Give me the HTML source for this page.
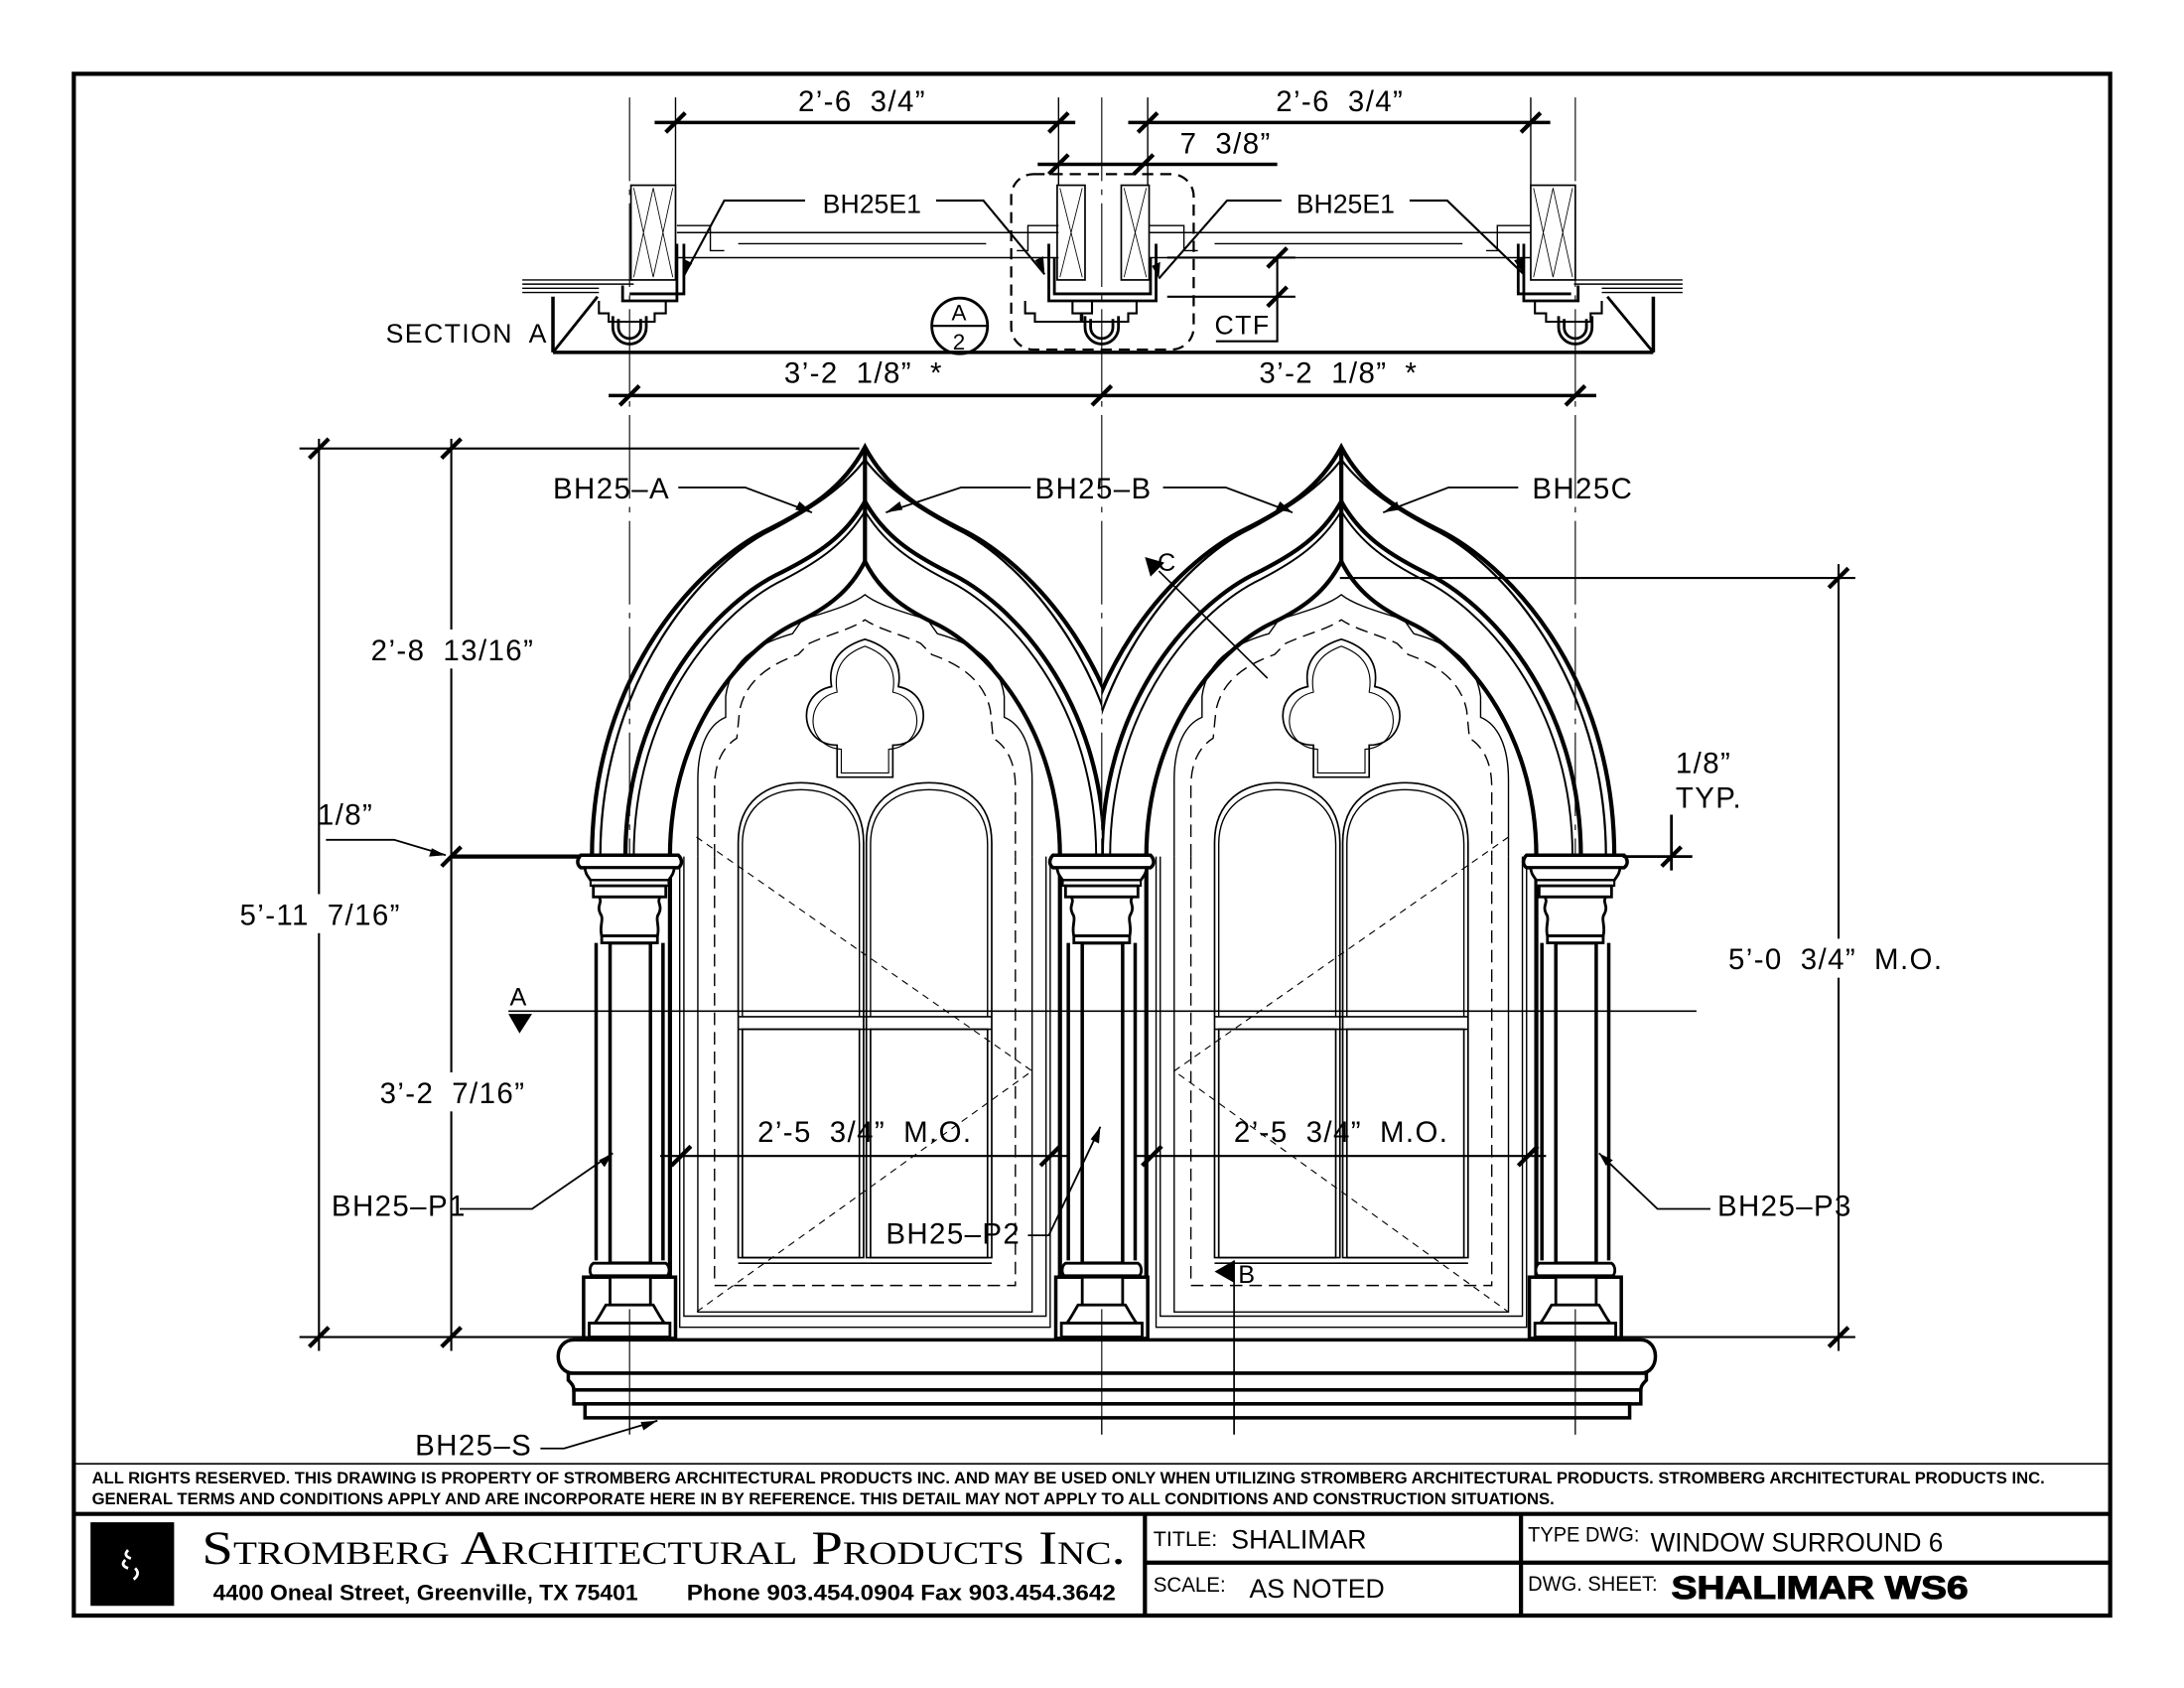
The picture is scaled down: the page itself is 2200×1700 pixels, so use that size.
<!DOCTYPE html>
<html><head><meta charset="utf-8"><style>
html,body{margin:0;padding:0;background:#fff;}
svg{display:block;}
text{font-family:"Liberation Sans",sans-serif;fill:#000;}
.d{font-size:21px;letter-spacing:1px;word-spacing:6px;}
</style></head><body>
<svg width="2200" height="1700" viewBox="0 0 1568 1212" preserveAspectRatio="none" xmlns="http://www.w3.org/2000/svg">
<defs>
<clipPath id="cl"><rect x="0" y="0" width="791" height="1212"/></clipPath>
<clipPath id="cr"><rect x="791" y="0" width="800" height="1212"/></clipPath>
<g id="archs" fill="none" stroke="#000">
  <path d="M-196,615 C-196,482.7 -117.6,403.3 -68.6,379.8 C-39.2,365.1 -15.7,350.4 0,321 C15.7,350.4 39.2,365.1 68.6,379.8 C117.6,403.3 196,482.7 196,615" stroke-width="3"/>
  <path d="M-190,615 C-190,487 -114,403 -66,380 C-38,365 -15,350 0,330 C15,350 38,365 66,380 C114,403 190,487 190,615" stroke-width="1.6"/>
  <path d="M-172,615 C-172,500 -103,431 -60,411 C-34,398 -14,385 0,360 C14,385 34,398 60,411 C103,431 172,500 172,615" stroke-width="3"/>
  <path d="M-166,615 C-166,503 -100,436 -58,416 C-33,403 -14,390 0,367 C14,390 33,403 58,416 C100,436 166,503 166,615" stroke-width="1.4"/>
</g>
<g id="win" fill="none" stroke="#000">
  <path d="M-140,615 C-140,520 -84,463 -49,447 C-28,437 -11,425 0,403 C11,425 28,437 49,447 C84,463 140,520 140,615" stroke-width="3"/>
  <path d="M-120,615 L-120,560 C-120,535 -112,520 -100,515 L-100,500 C-96,470 -70,460 -52,455 L-45,445 C-30,440 -10,435 0,427 C10,435 30,440 45,445 L52,455 C70,460 96,470 100,500 L100,515 C112,520 120,535 120,560 L120,615" stroke-width="1"/>
  <path d="M-108,615 L-108,565 C-108,545 -100,535 -92,530 L-90,510 C-85,485 -62,475 -48,470 L-40,462 C-25,455 -10,452 0,445 C10,452 25,455 40,462 L48,470 C62,475 85,485 90,510 L92,530 C100,535 108,545 108,565 L108,615" stroke-width="1" stroke-dasharray="9,5"/>
  <path d="M-20,558 L-20,535 C-47,535 -50,498 -24,493 C-28,470 -10,462 0,459 C10,462 28,470 24,493 C50,498 47,535 20,535 L20,558 Z" stroke-width="1.2"/>
  <path d="M-17,555 L-17,538 C-43,536 -44,502 -20,497 C-24,474 -8,467 0,464 C8,467 24,474 20,497 C44,502 43,536 17,538 L17,555 Z" stroke-width="0.8"/>
  <path d="M-91,903 L-91,605 C-91,575 -70,562 -46,562 C-22,562 -1,575 -1,605 L-1,903 Z M1,903 L1,605 C1,575 22,562 46,562 C70,562 91,575 91,605 L91,903 Z" stroke-width="1.2"/>
  <path d="M-88,730 L-88,606 C-88,580 -70,567 -46,567 C-22,567 -4,580 -4,606 L-4,730 M4,730 L4,606 C4,580 22,567 46,567 C70,567 88,580 88,606 L88,730" stroke-width="1"/>
  <rect x="-88" y="739" width="84" height="164" stroke-width="1.2"/>
  <rect x="4" y="739" width="84" height="164" stroke-width="1.2"/>
  <path d="M-91,730 H91 M-91,739 H91 M-91,907 H91" stroke-width="1.2"/>
  <path d="M-108,615 V923 H108 V615" stroke-width="1" stroke-dasharray="9,5"/>
  <path d="M-120,615 V942 H120 V615" stroke-width="1"/>
  <path d="M-133,615 V953 H133 V615 M-130,615 V945 H130 V615" stroke-width="1"/>
  <path d="M-140,615 V958 M140,615 V958" stroke-width="3"/>
</g>
<g id="pil" fill="#fff" stroke="#000">
  <path d="M-24,677 V905 M24,677 V905" stroke-width="2.5" fill="none"/>
  <rect x="-14" y="677" width="29" height="230" stroke-width="2.5"/>
  <path d="M-35,614 H35 C38,617 38,621 35,623 H-35 C-38,621 -38,617 -35,614 Z" stroke-width="2.5"/>
  <path d="M-32,623 H32 C32,627 30,629 28,632 H-28 C-30,629 -32,627 -32,623 Z" stroke-width="2"/>
  <rect x="-28" y="632" width="56" height="4" stroke-width="1.5"/>
  <rect x="-26" y="636" width="52" height="8" stroke-width="2"/>
  <path d="M-22,644 H22 C19,648 24,650 21,656 C18,660 22,665 20,672 H-20 C-22,665 -18,660 -21,656 C-24,650 -19,648 -22,644 Z" stroke-width="2"/>
  <rect x="-20" y="672" width="40" height="5" stroke-width="2"/>
  <path d="M-26,907 H26 C29,909 29,914 27,916 H-27 C-29,914 -29,909 -26,907 Z" stroke-width="2"/>
  <rect x="-33" y="917" width="66" height="44" stroke-width="2.5"/>
  <rect x="-14" y="917" width="29" height="20" stroke-width="2"/>
  <path d="M-17,937 H17 C20,942 22,946 25,950 H-25 C-22,946 -20,942 -17,937 Z" stroke-width="2"/>
  <rect x="-29" y="950" width="58" height="10" stroke-width="2"/>
</g>
<path id="tick" d="M-7,7 L7,-7" stroke="#000" stroke-width="3"/>
</defs>

<rect x="0" y="0" width="1568" height="1212" fill="#fff"/>
<rect x="53" y="53" width="1462" height="1107" fill="none" stroke="#000" stroke-width="3"/>

<g stroke="#000" stroke-width="0.8" stroke-dasharray="60,6,4,6" fill="none">
  <path d="M452,70 V1030 M791,70 V1030 M1131,70 V1030"/>
</g>

<!-- SECTION A -->
<g fill="none" stroke="#000">
  <path d="M397,253 H1187 M397,213 V253 M1187,213 V253" stroke-width="2.5"/>
  <path d="M397,253 L429,213 M1187,253 L1154,213" stroke-width="2"/>
  <path d="M375,201 H455 M375,204 H455 M375,207 H430 M375,210 H430 M1130,201 H1208 M1130,204 H1208 M1150,207 H1208 M1150,210 H1208" stroke-width="1"/>
  <rect x="453" y="133" width="32" height="68" stroke-width="1.2"/>
  <path d="M455,135 L469,199 M469,135 L455,199 M469,135 L483,199 M483,135 L469,199" stroke-width="0.6"/>
  <rect x="759" y="133" width="20" height="68" stroke-width="1.2"/>
  <path d="M761,135 L777,199 M777,135 L761,199" stroke-width="0.6"/>
  <rect x="805" y="133" width="20" height="68" stroke-width="1.2"/>
  <path d="M807,135 L823,199 M823,135 L807,199" stroke-width="0.6"/>
  <rect x="1099" y="133" width="32" height="68" stroke-width="1.2"/>
  <path d="M1101,135 L1115,199 M1115,135 L1101,199 M1115,135 L1129,199 M1129,135 L1115,199" stroke-width="0.6"/>
  <path d="M486,167 H760 M486,185 H760 M530,175 H708 M825,167 H1099 M825,185 H1099 M872,175 H1050" stroke-width="1"/>
  <path d="M486,162 H510 V180 H520 M760,162 H738 V180 H730 M825,162 H850 V180 H860 M1099,162 H1075 V180 H1067" stroke-width="1"/>
  <path d="M486,175 V216 H447 V205 M491,175 V211 H452 M753,175 V216 H830 V175 M757,185 V211 H826 V185 M1094,175 V216 H1133 V205 M1090,175 V211 H1128" stroke-width="2"/>
  <path d="M430,216 V225 H437 V231 H470 V225 H478 V216 M736,216 V225 H743 V231 H776 V225 H784 V216 M770,216 V225 H777 V231 H810 V225 H816 V216 M1102,216 V225 H1110 V231 H1142 V225 H1150 V216" stroke-width="1.5"/>
  <path d="M440,227 V235 A12,12 0 0 0 464,235 V227 M444,229 V235 A8,8 0 0 0 460,235 V229" stroke-width="2"/>
  <path d="M779,227 V235 A12,12 0 0 0 803,235 V227 M783,229 V235 A8,8 0 0 0 799,235 V229" stroke-width="2"/>
  <path d="M1119,227 V235 A12,12 0 0 0 1143,235 V227 M1123,229 V235 A8,8 0 0 0 1139,235 V229" stroke-width="2"/>
  <rect x="726" y="125" width="131" height="126" rx="16" stroke-width="1.6" stroke-dasharray="8,5"/>
  <path d="M470,88 H772 M810,88 H1113 M745,118 H917 M437,284 H1146" stroke-width="2.5"/>
  <path d="M485,70 V133 M760,70 V133 M824,70 V133 M1099,70 V133" stroke-width="1"/>
  <path d="M838,185 H930 M838,213 H930 M917,185 V245 H873" stroke-width="1.5"/>
  <path d="M578,144 H520 L491,198 M672,144 H706 L750,197 M920,144 H881 L832,200 M1010,144 H1039 L1094,197" stroke-width="1.5"/>
  <circle cx="689" cy="234" r="20" stroke-width="2"/>
  <path d="M669,234 H709" stroke-width="1.5"/>
</g>
<g fill="#000">
  <path d="M491,198 l0,-12 l6,3 z M750,197 l-7,-10 l6,-3 z M832,200 l1,-12 l-6,3 z M1094,197 l-7,-10 l6,-2 z"/>
</g>
<use href="#tick" x="485" y="88"/><use href="#tick" x="760" y="88"/>
<use href="#tick" x="824" y="88"/><use href="#tick" x="1099" y="88"/>
<use href="#tick" x="760" y="118"/><use href="#tick" x="821" y="118"/>
<use href="#tick" x="452" y="284"/><use href="#tick" x="791" y="284"/><use href="#tick" x="1131" y="284"/>
<use href="#tick" x="917" y="185"/><use href="#tick" x="917" y="213"/>
<g class="d">
<text x="619" y="80" text-anchor="middle">2’-6 3/4”</text>
<text x="962" y="80" text-anchor="middle">2’-6 3/4”</text>
<text x="880" y="110" text-anchor="middle">7 3/8”</text>
<rect x="580" y="135" width="92" height="20" fill="#fff"/>
<text x="626" y="153" text-anchor="middle" font-size="19" style="letter-spacing:0">BH25E1</text>
<rect x="922" y="135" width="90" height="20" fill="#fff"/>
<text x="966" y="153" text-anchor="middle" font-size="19" style="letter-spacing:0">BH25E1</text>
<text x="277" y="246" font-size="19">SECTION A</text>
<text x="689" y="230" text-anchor="middle" font-size="16">A</text>
<text x="689" y="251" text-anchor="middle" font-size="16">2</text>
<text x="892" y="240" text-anchor="middle" font-size="19">CTF</text>
<text x="620" y="275" text-anchor="middle">3’-2 1/8” *</text>
<text x="961" y="275" text-anchor="middle">3’-2 1/8” *</text>
</g>

<!-- ELEVATION -->
<g clip-path="url(#cl)"><use href="#archs" transform="translate(621,0)"/></g>
<g clip-path="url(#cr)"><use href="#archs" transform="translate(963,0)"/></g>
<use href="#win" transform="translate(621,0)"/>
<use href="#win" transform="translate(963,0)"/>
<use href="#pil" transform="translate(452,0)"/>
<use href="#pil" transform="translate(791,0)"/>
<use href="#pil" transform="translate(1131,0)"/>
<path d="M621,321 V403 M963,321 V403" stroke="#000" stroke-width="3"/>
<g fill="#fff" stroke="#000" stroke-width="2.5">
  <path d="M412,962 H1178 C1192,962 1192,986 1178,986 H412 C397,986 397,962 412,962 Z"/>
  <path d="M408,986 H1182 V991 C1180,993 1178,995 1178,998 H412 C412,995 410,993 408,991 Z"/>
  <rect x="412" y="998" width="766" height="10"/>
  <rect x="420" y="1008" width="750" height="10"/>
</g>
<path d="M452,940 V1030 M791,940 V1030 M1131,940 V1030" stroke="#000" stroke-width="0.8"/>

<g stroke="#000" fill="none">
  <path d="M215,322 H617 M215,960 H440 M229,315 V970 M324,315 V970" stroke-width="1.5"/>
  <path d="M324,615 H417" stroke-width="3"/>
  <path d="M234,603 H283 L320,614" stroke-width="1.3"/>
  <path d="M962,415 H1332 M1130,960 H1332 M1320,405 V970" stroke-width="1.5"/>
  <path d="M1165,615 H1215 M1200,585 V625" stroke-width="2"/>
  <path d="M365,726 H1218" stroke-width="1.2"/>
  <path d="M474,830 H767 M815,830 H1110" stroke-width="1.5"/>
  <path d="M500,601 L741,769 L500,942 M1083,601 L843,769 L1083,942" stroke-width="0.8" stroke-dasharray="5,4"/>
  <path d="M832,410 L910,487" stroke-width="1.2"/>
  <path d="M886,905 V1030" stroke-width="1.2"/>
  <path d="M487,350 H535 L583,368 M740,350 H690 L636,368 M835,350 H880 L928,368 M1090,350 H1040 L993,368" stroke-width="1.3"/>
  <path d="M330,868 H382 L440,828 M738,887 H753 L790,809 M1228,868 H1190 L1148,828 M388,1040 H405 L472,1020" stroke-width="1.3"/>
</g>
<use href="#tick" x="229" y="322"/><use href="#tick" x="324" y="322"/>
<use href="#tick" x="324" y="615"/><use href="#tick" x="229" y="960"/><use href="#tick" x="324" y="960"/>
<use href="#tick" x="1320" y="415"/><use href="#tick" x="1320" y="960"/>
<use href="#tick" x="489" y="830"/><use href="#tick" x="754" y="830"/>
<use href="#tick" x="827" y="830"/><use href="#tick" x="1097" y="830"/>
<use href="#tick" x="1200" y="615"/>
<g fill="#000">
  <path d="M365,728 L382,728 L373,742 Z"/>
  <path d="M822,400 L836,404 L826,414 Z"/>
  <path d="M872,913 L886,905 L886,921 Z"/>
  <path d="M583,368 l-12,-2 l3,-6 z M636,368 l10,-8 l2,6 z M928,368 l-12,-2 l3,-6 z M993,368 l10,-8 l2,6 z"/>
  <path d="M440,828 l-6,10 l-4,-5 z M790,809 l-1,12 l-6,-3 z M1148,828 l10,5 l-5,4 z M472,1020 l-10,7 l-2,-6 z M320,614 l-12,1 l2,-6 z"/>
</g>
<g class="d">
<rect x="250" y="452" width="150" height="28" fill="#fff"/>
<text x="325" y="474" text-anchor="middle">2’-8 13/16”</text>
<rect x="158" y="642" width="144" height="28" fill="#fff"/>
<text x="230" y="664" text-anchor="middle">5’-11 7/16”</text>
<rect x="256" y="770" width="138" height="28" fill="#fff"/>
<text x="325" y="792" text-anchor="middle">3’-2 7/16”</text>
<text x="228" y="592">1/8”</text>
<rect x="1224" y="674" width="190" height="28" fill="#fff"/>
<text x="1318" y="696" text-anchor="middle">5’-0 3/4” M.O.</text>
<text x="1203" y="555">1/8”</text>
<text x="1203" y="580">TYP.</text>
<text x="621" y="820" text-anchor="middle">2’-5 3/4” M.O.</text>
<text x="963" y="820" text-anchor="middle">2’-5 3/4” M.O.</text>
<text x="366" y="722" font-size="18">A</text>
<text x="831" y="410" font-size="18">C</text>
<text x="889" y="921" font-size="18">B</text>
<text x="397" y="358">BH25–A</text>
<text x="743" y="358">BH25–B</text>
<text x="1100" y="358">BH25C</text>
<text x="238" y="873">BH25–P1</text>
<text x="636" y="893">BH25–P2</text>
<text x="1233" y="873">BH25–P3</text>
<text x="298" y="1045">BH25–S</text>
</g>

<!-- TITLE BLOCK -->
<g stroke="#000" fill="none">
  <path d="M53,1051 H1515" stroke-width="1.2"/>
  <path d="M53,1087 H1515" stroke-width="3"/>
  <path d="M822,1087 V1160 M1092,1087 V1160" stroke-width="3"/>
  <path d="M822,1122 H1515" stroke-width="3"/>
</g>
<g font-weight="bold" font-size="12">
<text x="66" y="1065" textLength="1402" lengthAdjust="spacingAndGlyphs">ALL RIGHTS RESERVED. THIS DRAWING IS PROPERTY OF STROMBERG ARCHITECTURAL PRODUCTS INC. AND MAY BE USED ONLY WHEN UTILIZING STROMBERG ARCHITECTURAL PRODUCTS.  STROMBERG ARCHITECTURAL PRODUCTS INC.</text>
<text x="66" y="1080" textLength="1050" lengthAdjust="spacingAndGlyphs">GENERAL TERMS AND CONDITIONS APPLY AND ARE INCORPORATE HERE IN BY REFERENCE.  THIS DETAIL MAY NOT APPLY TO ALL CONDITIONS AND CONSTRUCTION SITUATIONS.</text>
</g>
<rect x="65" y="1093" width="60" height="60" fill="#000"/>
<path d="M92,1113 q-4,4 2,6 M90,1120 q-4,4 2,6 M97,1126 q4,4 -1,8" stroke="#fff" stroke-width="2" fill="none"/>
<text x="145" y="1123" font-size="34" style="font-family:'Liberation Serif',serif;font-variant:small-caps" textLength="663" lengthAdjust="spacingAndGlyphs">Stromberg Architectural Products Inc.</text>
<text x="153" y="1149" font-size="16" font-weight="bold" textLength="305" lengthAdjust="spacingAndGlyphs">4400 Oneal Street, Greenville, TX  75401</text>
<text x="493" y="1149" font-size="16" font-weight="bold" textLength="308" lengthAdjust="spacingAndGlyphs">Phone 903.454.0904   Fax 903.454.3642</text>
<text x="828" y="1110" font-size="15" textLength="46" lengthAdjust="spacingAndGlyphs">TITLE:</text>
<text x="884" y="1112" font-size="19">SHALIMAR</text>
<text x="828" y="1143" font-size="15" textLength="52" lengthAdjust="spacingAndGlyphs">SCALE:</text>
<text x="897" y="1147" font-size="19">AS NOTED</text>
<text x="1097" y="1107" font-size="15" textLength="80" lengthAdjust="spacingAndGlyphs">TYPE DWG:</text>
<text x="1185" y="1114" font-size="19" textLength="210" lengthAdjust="spacingAndGlyphs">WINDOW SURROUND 6</text>
<text x="1097" y="1142" font-size="15" textLength="93" lengthAdjust="spacingAndGlyphs">DWG. SHEET:</text>
<text x="1200" y="1148" font-size="23" font-weight="bold" textLength="213" lengthAdjust="spacingAndGlyphs" stroke="#000" stroke-width="0.8">SHALIMAR WS6</text>
</svg>
</body></html>
